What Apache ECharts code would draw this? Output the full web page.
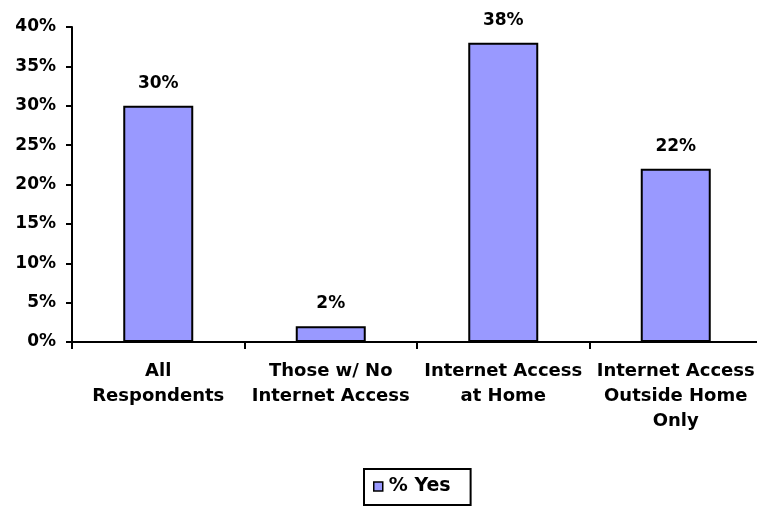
<!DOCTYPE html>
<html>
<head>
<meta charset="utf-8">
<script src="https://cdn.jsdelivr.net/npm/echarts@6/dist/echarts.min.js"></script>
<style>
html,body{margin:0;padding:0;background:#fff;}
#main{width:757px;height:506px;}
</style>
</head>
<body>
<div id="main"></div>
<script>
var categories = ["All\nRespondents", "Those w/ No\nInternet Access", "Internet Access\nat Home", "Internet Access\nOutside Home\nOnly"];
var yesValues = [30, 2, 38, 22];
var seriesName = "% Yes";
var yMin = 0, yMax = 40, yStep = 5;

var FONT = "DejaVu Sans";
var chart = echarts.init(document.getElementById('main'));
chart.setOption({
  animation: false,
  backgroundColor: '#ffffff',
  grid: { left: 72, width: 690, top: 27, height: 315, containLabel: false, outerBoundsMode: 'none' },
  xAxis: {
    type: 'category',
    data: categories,
    axisLine: { lineStyle: { color: '#000', width: 2 } },
    axisTick: { show: true, length: 7, lineStyle: { color: '#000', width: 2 } },
    axisLabel: {
      interval: 0, margin: 17, color: '#000', fontFamily: FONT, fontWeight: 'bold',
      fontSize: 18, lineHeight: 25
    }
  },
  yAxis: {
    type: 'value', min: yMin, max: yMax, interval: yStep,
    axisLine: { show: true, lineStyle: { color: '#000', width: 2 } },
    axisTick: { show: true, length: 6, lineStyle: { color: '#000', width: 2 } },
    splitLine: { show: false },
    axisLabel: {
      formatter: '{value}%', margin: 16, color: '#000', fontFamily: FONT,
      fontWeight: 'bold', fontSize: 17
    }
  },
  legend: {
    data: [seriesName],
    left: 364, top: 469,
    padding: [8, 20, 9, 9],
    borderColor: '#000', borderWidth: 2,
    itemWidth: 9, itemHeight: 9, itemGap: 10,
    icon: 'rect',
    itemStyle: { borderColor: '#000', borderWidth: 1.5 },
    textStyle: { color: '#000', fontFamily: FONT, fontWeight: 'bold', fontSize: 19, padding: [0, 0, 0, 1] }
  },
  series: [{
    name: seriesName,
    type: 'bar',
    data: yesValues,
    barWidth: 70,
    itemStyle: { color: '#9999ff', borderColor: '#000', borderWidth: 2 },
    label: {
      show: true, position: 'top', distance: 14, formatter: '{c}%',
      color: '#000', fontFamily: FONT, fontWeight: 'bold', fontSize: 17
    }
  }]
});
</script>
</body>
</html>
